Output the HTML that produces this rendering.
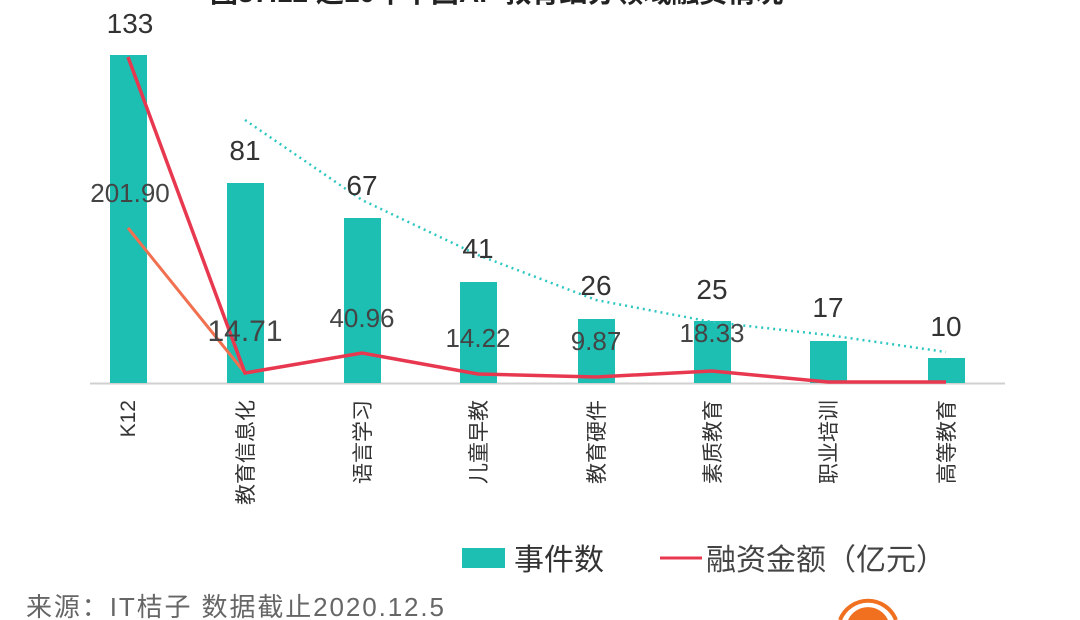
<!DOCTYPE html>
<html><head><meta charset="utf-8"><style>
html,body{margin:0;padding:0;background:#fff;width:1080px;height:620px;overflow:hidden;}
svg{display:block;}
svg text{font-family:"Liberation Sans","Noto Sans CJK SC",sans-serif;}
</style></head><body>
<svg width="1080" height="620" viewBox="0 0 1080 620" xmlns="http://www.w3.org/2000/svg">
<text x="210" y="2" font-size="28" font-weight="bold" fill="#222">图37.12 近10年中国AI+教育细分领域融资情况</text>
<line x1="90" y1="383.5" x2="1005" y2="383.5" stroke="#d0d0d0" stroke-width="2"/>
<g fill="#1dbfb3">
<rect x="110" y="55" width="37" height="328"/>
<rect x="227" y="183" width="37" height="200"/>
<rect x="344" y="218" width="37" height="165"/>
<rect x="460" y="282" width="37" height="101"/>
<rect x="578" y="319" width="37" height="64"/>
<rect x="694" y="321" width="37" height="62"/>
<rect x="810" y="341" width="37" height="42"/>
<rect x="928" y="358" width="37" height="25"/>
</g>
<polyline points="245,120 362,200 478,255 596,300 712,322 828,335 946,352" fill="none" stroke="#2cc7c0" stroke-width="2.5" stroke-dasharray="2,4"/>
<polyline points="128,228 245,373" fill="none" stroke="#f07050" stroke-width="3"/>
<polyline points="128,57 245,373 362,353 478,374 596,377 712,371 828,382 946,382" fill="none" stroke="#e8384f" stroke-width="3.5"/>
<g font-size="28" fill="#333" text-anchor="middle">
<text x="130" y="33">133</text><text x="245" y="160">81</text><text x="362" y="195">67</text>
<text x="478" y="258">41</text><text x="596" y="295">26</text><text x="712" y="299">25</text>
<text x="828" y="317">17</text><text x="946" y="336">10</text>
</g>
<g font-size="26" fill="#444" text-anchor="middle">
<text x="130" y="202">201.90</text><text x="245" y="341" font-size="30">14.71</text>
<text x="362" y="327">40.96</text><text x="478" y="347">14.22</text>
<text x="596" y="350">9.87</text><text x="712" y="342">18.33</text>
</g>
<g font-size="21" fill="#333" text-anchor="end">
<text transform="translate(135,400) rotate(-90)">K12</text>
<text transform="translate(253,400) rotate(-90)">教育信息化</text>
<text transform="translate(370,400) rotate(-90)">语言学习</text>
<text transform="translate(486,400) rotate(-90)">儿童早教</text>
<text transform="translate(604,400) rotate(-90)">教育硬件</text>
<text transform="translate(720,400) rotate(-90)">素质教育</text>
<text transform="translate(836,400) rotate(-90)">职业培训</text>
<text transform="translate(954,400) rotate(-90)">高等教育</text>
</g>
<rect x="462" y="548" width="43" height="20" fill="#1dbfb3"/>
<text x="514" y="570" font-size="30" fill="#333">事件数</text>
<line x1="660" y1="558" x2="702" y2="558" stroke="#e8384f" stroke-width="3"/>
<text x="706" y="570" font-size="30" fill="#444">融资金额（亿元）</text>
<text x="26" y="616" font-size="26" fill="#666" textLength="418" lengthAdjust="spacing">来源：IT桔子 数据截止2020.12.5</text>
<path d="M840,620 A30,30 0 0 1 896,620" fill="none" stroke="#f07020" stroke-width="4"/>
<path d="M848,620 A22,22 0 0 1 888,620 Z" fill="#f07020"/>
</svg>
</body></html>
